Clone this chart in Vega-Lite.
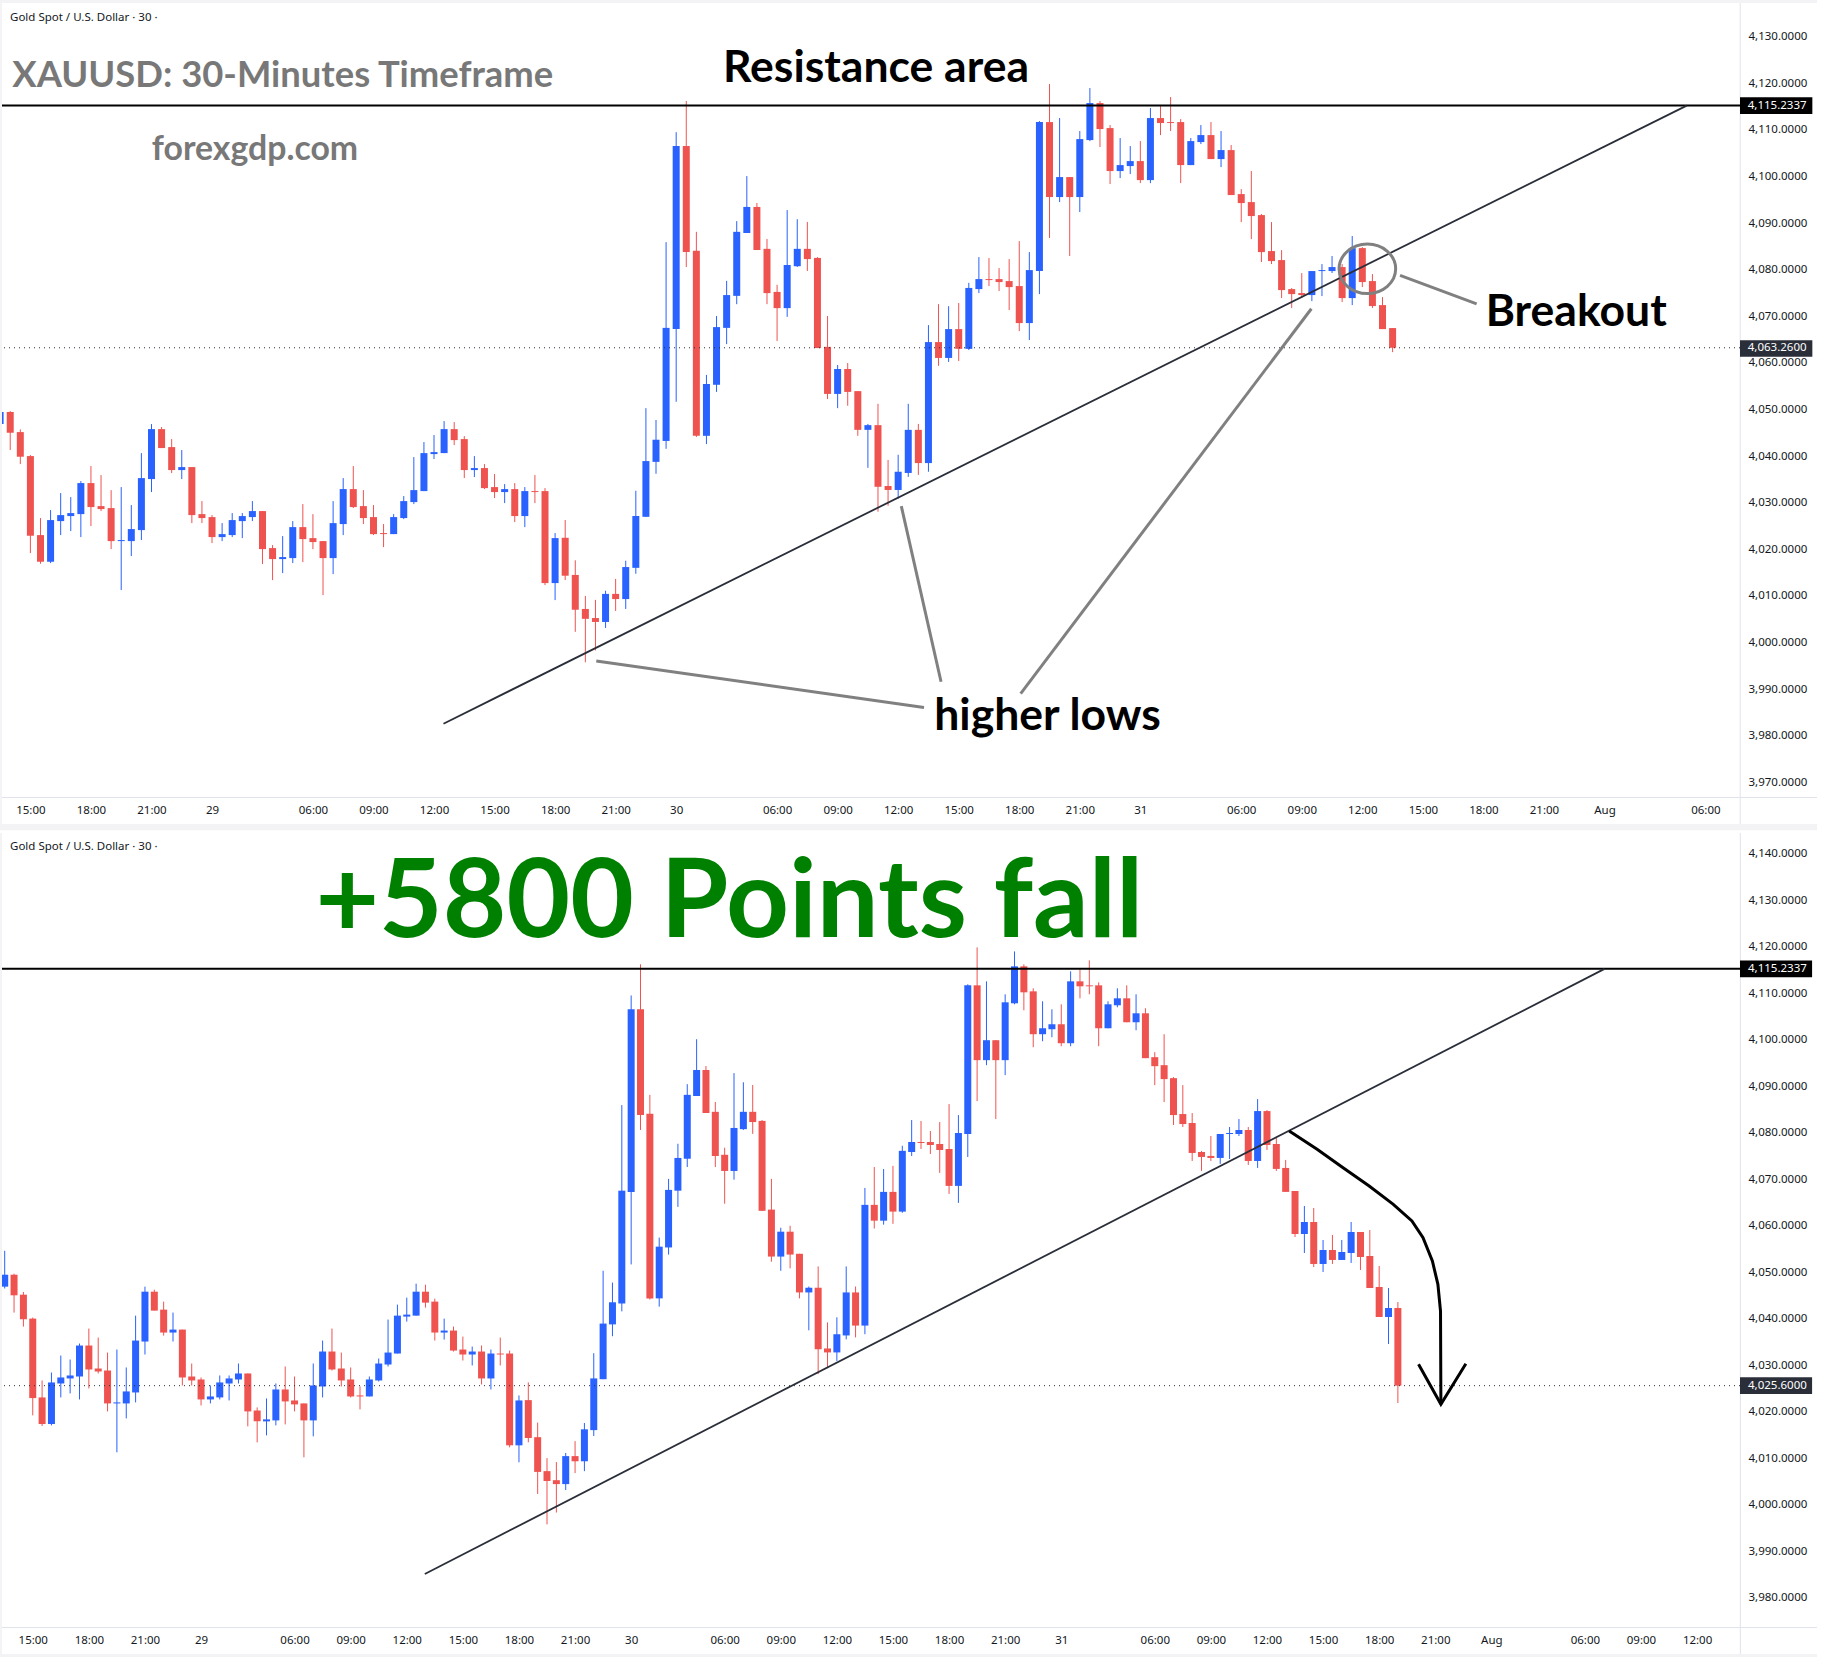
{
  "$schema": "https://vega.github.io/schema/vega-lite/v6.json",
  "background": "white",
  "padding": 0,
  "spacing": 2,
  "config": {
    "view": {"stroke": null},
    "text": {"font": "Lato", "fontWeight": "bold"}
  },
  "datasets": {
    "candles": [
      {"k":1,"o":4049.46,"h":4049.68,"l":4041.31,"c":4045.03},
      {"k":2,"o":4045.17,"h":4045.74,"l":4038.3,"c":4039.88},
      {"k":3,"o":4040.02,"h":4040.24,"l":4019.21,"c":4022.93},
      {"k":4,"o":4023.07,"h":4026.72,"l":4016.92,"c":4017.35},
      {"k":5,"o":4017.35,"h":4028.43,"l":4017.06,"c":4026.29},
      {"k":6,"o":4026.07,"h":4032.08,"l":4023.07,"c":4027.36},
      {"k":7,"o":4027.15,"h":4031.22,"l":4023.93,"c":4027.79},
      {"k":8,"o":4027.57,"h":4034.66,"l":4022.64,"c":4034.23},
      {"k":9,"o":4034.23,"h":4037.88,"l":4025.0,"c":4029.08},
      {"k":10,"o":4029.29,"h":4035.94,"l":4028.22,"c":4028.65},
      {"k":11,"o":4028.86,"h":4032.72,"l":4020.06,"c":4021.78},
      {"k":12,"o":4021.78,"h":4033.37,"l":4011.27,"c":4022.0},
      {"k":13,"o":4021.78,"h":4029.51,"l":4018.56,"c":4024.36},
      {"k":14,"o":4024.14,"h":4040.66,"l":4022.0,"c":4035.3},
      {"k":15,"o":4035.09,"h":4046.89,"l":4032.3,"c":4045.81},
      {"k":16,"o":4045.81,"h":4046.24,"l":4041.74,"c":4041.74},
      {"k":17,"o":4041.95,"h":4043.67,"l":4036.37,"c":4037.02},
      {"k":18,"o":4037.02,"h":4041.31,"l":4035.09,"c":4037.66},
      {"k":19,"o":4037.66,"h":4037.66,"l":4025.64,"c":4027.36},
      {"k":20,"o":4027.57,"h":4030.36,"l":4025.64,"c":4026.72},
      {"k":21,"o":4026.93,"h":4027.36,"l":4021.35,"c":4022.64},
      {"k":22,"o":4022.64,"h":4025.64,"l":4021.78,"c":4023.28},
      {"k":23,"o":4023.07,"h":4027.79,"l":4022.64,"c":4026.29},
      {"k":24,"o":4026.07,"h":4027.79,"l":4022.42,"c":4027.15},
      {"k":25,"o":4026.93,"h":4030.36,"l":4026.07,"c":4028.22},
      {"k":26,"o":4028.22,"h":4028.22,"l":4016.85,"c":4020.06},
      {"k":27,"o":4020.28,"h":4020.92,"l":4013.41,"c":4017.92},
      {"k":28,"o":4017.92,"h":4022.85,"l":4014.91,"c":4018.35},
      {"k":29,"o":4018.13,"h":4026.07,"l":4017.06,"c":4024.78},
      {"k":30,"o":4024.78,"h":4029.72,"l":4017.27,"c":4022.21},
      {"k":31,"o":4022.42,"h":4027.57,"l":4020.06,"c":4021.57},
      {"k":32,"o":4021.78,"h":4021.78,"l":4010.19,"c":4018.13},
      {"k":33,"o":4018.13,"h":4030.36,"l":4014.7,"c":4025.64},
      {"k":34,"o":4025.43,"h":4035.3,"l":4023.07,"c":4032.94},
      {"k":35,"o":4032.94,"h":4037.88,"l":4028.86,"c":4029.08},
      {"k":36,"o":4029.29,"h":4032.72,"l":4025.43,"c":4026.72},
      {"k":37,"o":4026.93,"h":4029.51,"l":4023.07,"c":4023.28},
      {"k":38,"o":4023.5,"h":4025.43,"l":4020.49,"c":4023.28},
      {"k":39,"o":4023.28,"h":4027.57,"l":4023.28,"c":4026.93},
      {"k":40,"o":4026.72,"h":4031.44,"l":4026.5,"c":4030.36},
      {"k":41,"o":4030.15,"h":4039.81,"l":4029.72,"c":4032.72},
      {"k":42,"o":4032.51,"h":4043.03,"l":4032.51,"c":4040.66},
      {"k":43,"o":4040.45,"h":4044.53,"l":4039.38,"c":4040.88},
      {"k":44,"o":4040.66,"h":4047.53,"l":4040.66,"c":4045.81},
      {"k":45,"o":4045.81,"h":4047.32,"l":4042.38,"c":4043.45},
      {"k":46,"o":4043.67,"h":4044.31,"l":4035.3,"c":4037.02},
      {"k":47,"o":4037.02,"h":4040.02,"l":4035.51,"c":4037.45},
      {"k":48,"o":4037.45,"h":4038.3,"l":4032.94,"c":4033.15},
      {"k":49,"o":4033.37,"h":4036.16,"l":4031.01,"c":4032.3},
      {"k":50,"o":4032.3,"h":4034.01,"l":4029.94,"c":4032.94},
      {"k":51,"o":4032.94,"h":4034.23,"l":4025.86,"c":4027.15},
      {"k":52,"o":4027.15,"h":4033.37,"l":4024.78,"c":4032.51},
      {"k":53,"o":4032.51,"h":4035.94,"l":4029.94,"c":4032.3},
      {"k":54,"o":4032.51,"h":4033.15,"l":4012.34,"c":4012.77},
      {"k":55,"o":4012.77,"h":4023.5,"l":4009.12,"c":4022.42},
      {"k":56,"o":4022.49,"h":4026.31,"l":4013.42,"c":4014.35},
      {"k":57,"o":4014.52,"h":4017.66,"l":4002.31,"c":4007.05},
      {"k":58,"o":4007.22,"h":4010.02,"l":3995.77,"c":4005.1},
      {"k":59,"o":4005.27,"h":4009.17,"l":3998.32,"c":4004.43},
      {"k":60,"o":4004.43,"h":4011.13,"l":4003.15,"c":4010.45},
      {"k":61,"o":4010.45,"h":4013.67,"l":4006.8,"c":4009.34},
      {"k":62,"o":4009.34,"h":4017.57,"l":4007.22,"c":4016.21},
      {"k":63,"o":4016.04,"h":4032.58,"l":4014.77,"c":4027.16},
      {"k":64,"o":4026.99,"h":4050.31,"l":4026.99,"c":4038.95},
      {"k":65,"o":4038.78,"h":4047.77,"l":4036.23,"c":4043.53},
      {"k":66,"o":4043.27,"h":4085.93,"l":4041.58,"c":4067.53},
      {"k":67,"o":4067.27,"h":4109.51,"l":4051.67,"c":4106.55},
      {"k":68,"o":4106.55,"h":4116.21,"l":4080.59,"c":4083.81},
      {"k":69,"o":4084.07,"h":4088.14,"l":4044.12,"c":4044.37},
      {"k":70,"o":4044.37,"h":4057.44,"l":4042.59,"c":4055.49},
      {"k":71,"o":4055.32,"h":4070.07,"l":4053.79,"c":4067.7},
      {"k":72,"o":4067.53,"h":4077.62,"l":4064.05,"c":4074.57},
      {"k":73,"o":4074.4,"h":4090.43,"l":4072.62,"c":4088.14},
      {"k":74,"o":4087.89,"h":4100.1,"l":4087.89,"c":4093.48},
      {"k":75,"o":4093.48,"h":4094.33,"l":4084.24,"c":4084.24},
      {"k":76,"o":4084.49,"h":4086.61,"l":4072.62,"c":4074.99},
      {"k":77,"o":4075.25,"h":4076.77,"l":4064.73,"c":4071.77},
      {"k":78,"o":4071.77,"h":4092.81,"l":4069.9,"c":4081.02},
      {"k":79,"o":4080.76,"h":4090.85,"l":4080.59,"c":4084.49},
      {"k":80,"o":4084.49,"h":4090.26,"l":4079.74,"c":4082.29},
      {"k":81,"o":4082.54,"h":4082.71,"l":4063.2,"c":4063.2},
      {"k":82,"o":4063.46,"h":4070.07,"l":4052.26,"c":4053.36},
      {"k":83,"o":4053.36,"h":4059.56,"l":4050.31,"c":4058.71},
      {"k":84,"o":4058.71,"h":4059.98,"l":4050.82,"c":4053.79},
      {"k":85,"o":4053.96,"h":4053.96,"l":4044.37,"c":4045.65},
      {"k":86,"o":4045.65,"h":4046.92,"l":4037.5,"c":4046.66},
      {"k":87,"o":4046.66,"h":4051.24,"l":4028.09,"c":4033.43},
      {"k":88,"o":4033.6,"h":4039.2,"l":4029.36,"c":4032.75},
      {"k":89,"o":4032.75,"h":4040.3,"l":4030.89,"c":4036.66},
      {"k":90,"o":4036.4,"h":4051.24,"l":4035.55,"c":4045.65},
      {"k":91,"o":4045.65,"h":4046.92,"l":4035.98,"c":4038.52},
      {"k":92,"o":4038.52,"h":4068.12,"l":4036.66,"c":4064.48},
      {"k":93,"o":4064.48,"h":4072.62,"l":4059.39,"c":4061.08},
      {"k":94,"o":4061.08,"h":4072.19,"l":4060.23,"c":4067.27},
      {"k":95,"o":4067.27,"h":4072.87,"l":4060.4,"c":4063.03},
      {"k":96,"o":4063.03,"h":4077.2,"l":4062.78,"c":4076.1},
      {"k":97,"o":4075.85,"h":4082.72,"l":4075.0,"c":4078.0},
      {"k":98,"o":4078.0,"h":4082.51,"l":4076.5,"c":4077.79},
      {"k":99,"o":4078.0,"h":4080.36,"l":4075.43,"c":4077.36},
      {"k":100,"o":4077.57,"h":4082.29,"l":4071.35,"c":4076.28},
      {"k":101,"o":4076.5,"h":4086.15,"l":4066.84,"c":4068.56},
      {"k":102,"o":4068.56,"h":4083.79,"l":4064.91,"c":4079.93},
      {"k":103,"o":4079.72,"h":4111.91,"l":4074.78,"c":4111.69},
      {"k":104,"o":4111.69,"h":4119.85,"l":4086.8,"c":4095.6},
      {"k":105,"o":4095.6,"h":4112.55,"l":4094.52,"c":4099.89},
      {"k":106,"o":4099.89,"h":4099.89,"l":4082.94,"c":4095.6},
      {"k":107,"o":4095.6,"h":4109.76,"l":4092.38,"c":4108.04},
      {"k":108,"o":4107.83,"h":4118.99,"l":4107.61,"c":4115.77},
      {"k":109,"o":4115.77,"h":4116.2,"l":4106.33,"c":4110.19},
      {"k":110,"o":4110.4,"h":4111.05,"l":4098.39,"c":4101.18},
      {"k":111,"o":4101.18,"h":4108.26,"l":4099.67,"c":4102.46},
      {"k":112,"o":4102.25,"h":4106.54,"l":4100.53,"c":4103.32},
      {"k":113,"o":4103.32,"h":4107.61,"l":4098.6,"c":4099.24},
      {"k":114,"o":4099.24,"h":4114.7,"l":4098.6,"c":4112.55},
      {"k":115,"o":4112.55,"h":4115.12,"l":4108.9,"c":4111.48},
      {"k":116,"o":4111.69,"h":4117.06,"l":4109.76,"c":4111.48},
      {"k":117,"o":4111.69,"h":4112.33,"l":4098.6,"c":4102.46},
      {"k":118,"o":4102.46,"h":4108.26,"l":4102.46,"c":4107.61},
      {"k":119,"o":4107.4,"h":4111.05,"l":4106.97,"c":4108.9},
      {"k":120,"o":4108.9,"h":4111.69,"l":4103.75,"c":4103.75},
      {"k":121,"o":4103.75,"h":4109.76,"l":4102.03,"c":4105.68},
      {"k":122,"o":4105.68,"h":4106.76,"l":4096.03,"c":4096.03},
      {"k":123,"o":4096.24,"h":4097.31,"l":4090.23,"c":4094.31},
      {"k":124,"o":4094.52,"h":4101.18,"l":4086.58,"c":4091.52},
      {"k":125,"o":4091.73,"h":4091.95,"l":4081.65,"c":4083.79},
      {"k":126,"o":4084.01,"h":4090.23,"l":4081.22,"c":4081.86},
      {"k":127,"o":4082.08,"h":4084.22,"l":4073.92,"c":4075.64},
      {"k":128,"o":4075.85,"h":4076.07,"l":4071.78,"c":4074.78},
      {"k":129,"o":4075.0,"h":4079.29,"l":4073.92,"c":4074.57},
      {"k":130,"o":4074.57,"h":4079.72,"l":4073.28,"c":4079.72},
      {"k":131,"o":4079.72,"h":4081.22,"l":4074.35,"c":4079.93},
      {"k":132,"o":4079.72,"h":4082.94,"l":4079.29,"c":4080.58},
      {"k":133,"o":4080.58,"h":4081.22,"l":4073.06,"c":4073.92},
      {"k":134,"o":4073.92,"h":4087.23,"l":4072.42,"c":4084.65},
      {"k":135,"o":4084.65,"h":4084.87,"l":4076.28,"c":4077.36},
      {"k":136,"o":4077.57,"h":4079.07,"l":4071.78,"c":4072.21},
      {"k":137,"o":4072.42,"h":4074.14,"l":4067.27,"c":4067.27},
      {"k":138,"p":"t","o":4067.49,"h":4067.49,"l":4062.33,"c":4063.26},
      {"k":138,"p":"b","o":4067.46,"h":4067.46,"l":4057.57,"c":4058.22},
      {"k":139,"p":"b","o":4058.22,"h":4064.24,"l":4054.13,"c":4060.8},
      {"k":140,"p":"b","o":4060.8,"h":4063.81,"l":4051.12,"c":4051.77},
      {"k":141,"p":"b","o":4051.77,"h":4056.93,"l":4050.05,"c":4054.78},
      {"k":142,"p":"b","o":4054.78,"h":4058.0,"l":4051.77,"c":4052.63},
      {"k":143,"p":"b","o":4052.63,"h":4056.93,"l":4052.63,"c":4054.35},
      {"k":144,"p":"b","o":4054.13,"h":4060.8,"l":4051.98,"c":4058.65},
      {"k":145,"p":"b","o":4058.65,"h":4058.65,"l":4050.48,"c":4053.27},
      {"k":146,"p":"b","o":4053.49,"h":4059.08,"l":4046.6,"c":4046.6},
      {"k":147,"p":"b","o":4046.82,"h":4051.34,"l":4040.37,"c":4040.37},
      {"k":148,"p":"b","o":4040.37,"h":4046.6,"l":4034.56,"c":4042.3},
      {"k":149,"p":"b","o":4042.3,"h":4043.59,"l":4021.87,"c":4025.6}
    ]
  },
  "vconcat": [
    {
      "width": 1738,
      "height": 794,
      "layer": [
        {
          "data": {"name": "candles"},
          "transform": [{"filter": "datum.k <= 138 && datum.p != 'b'"}],
          "mark": {"type": "rule", "strokeWidth": 1},
          "encoding": {
            "x": {
              "field": "k", "type": "quantitative",
              "scale": {"domain": [0.185, 172.43], "nice": false, "zero": false, "padding": 0},
              "axis": {
                "title": null, "grid": false, "ticks": false, "domain": false,
                "labelFont": "Noto Sans", "labelFontSize": 11.5, "labelColor": "#131722",
                "labelPadding": 7, "labelOverlap": false, "labelFlush": false,
                "values": [3,9,15,21,31,37,43,49,55,61,67,77,83,89,95,101,107,113,123,129,135,141,147,153,159,169],
                "labelExpr": "{3:'15:00',9:'18:00',15:'21:00',21:'29',31:'06:00',37:'09:00',43:'12:00',49:'15:00',55:'18:00',61:'21:00',67:'30',77:'06:00',83:'09:00',89:'12:00',95:'15:00',101:'18:00',107:'21:00',113:'31',123:'06:00',129:'09:00',135:'12:00',141:'15:00',147:'18:00',153:'21:00',159:'Aug',169:'06:00'}[datum.value]"
              }
            },
            "y": {
              "field": "h", "type": "quantitative",
              "scale": {"domain": [3966.87, 4137.24], "nice": false, "zero": false},
              "axis": {
                "title": null, "orient": "right", "grid": false, "ticks": false, "domain": false,
                "labelFont": "Noto Sans", "labelFontSize": 11.5, "labelColor": "#131722",
                "labelPadding": 8, "labelOverlap": false, "labelFlush": false, "format": ",.4f",
                "values": [3970,3980,3990,4000,4010,4020,4030,4040,4050,4060,4070,4080,4090,4100,4110,4120,4130]
              }
            },
            "y2": {"field": "l"},
            "color": {"condition": {"test": "datum.c >= datum.o", "value": "#2962FF"}, "value": "#EF5350"}
          }
        },
        {
          "data": {"values": [
            {"k":0,"k2":180.07,"v":4137.88,"v2":4137.24},
            {"k":0,"k2":0.185,"v":4137.88,"v2":3959.76},
            {"k":0,"k2":180.07,"v":3961.05,"v2":3959.76}
          ]},
          "mark": {"type": "rect", "color": "#f3f3f5"},
          "encoding": {
            "x": {"field": "k", "type": "quantitative"},
            "x2": {"field": "k2"},
            "y": {"field": "v", "type": "quantitative"},
            "y2": {"field": "v2"}
          }
        },
        {
          "data": {"values": [
            {"k":172.4,"k2":172.5,"v":4137.24,"v2":3961.05},
            {"k":0.185,"k2":180.07,"v":3966.87,"v2":3966.65}
          ]},
          "mark": {"type": "rect", "color": "#e0e3eb"},
          "encoding": {
            "x": {"field": "k", "type": "quantitative"},
            "x2": {"field": "k2"},
            "y": {"field": "v", "type": "quantitative"},
            "y2": {"field": "v2"}
          }
        },
        {
          "data": {"values": [{"k":0.185,"k2":0.345,"v":4049.46,"v2":4046.89}]},
          "mark": {"type": "rect", "color": "#2962FF"},
          "encoding": {
            "x": {"field": "k", "type": "quantitative"},
            "x2": {"field": "k2"},
            "y": {"field": "v", "type": "quantitative"},
            "y2": {"field": "v2"}
          }
        },
        {
          "data": {"name": "candles"},
          "transform": [{"filter": "datum.k <= 138 && datum.p != 'b'"}],
          "mark": {"type": "bar", "size": 7},
          "encoding": {
            "x": {"field": "k", "type": "quantitative"},
            "y": {"field": "o", "type": "quantitative"},
            "y2": {"field": "c"},
            "color": {"condition": {"test": "datum.c >= datum.o", "value": "#2962FF"}, "value": "#EF5350"}
          }
        },
        {
          "data": {"values": [{"v": 4063.26}]},
          "mark": {"type": "rule", "color": "#2a2e39", "strokeWidth": 1, "strokeDash": [1, 4]},
          "encoding": {"y": {"field": "v", "type": "quantitative"}}
        },
        {
          "data": {"values": [{"v": 4115.2337}]},
          "mark": {"type": "rule", "color": "#000000", "strokeWidth": 2},
          "encoding": {"y": {"field": "v", "type": "quantitative"}}
        },
        {
          "data": {"values": [{"k":43.94,"v":3982.6},{"k":167.15,"v":4115.23}]},
          "mark": {"type": "line", "color": "#2a2e39", "strokeWidth": 1.8},
          "encoding": {
            "x": {"field": "k", "type": "quantitative"},
            "y": {"field": "v", "type": "quantitative"}
          }
        },
        {
          "data": {"values": [
            {"g":"a","n":0,"k":59.08,"v":3996.03},{"g":"a","n":1,"k":91.56,"v":3986.07},
            {"g":"b","n":0,"k":89.31,"v":4029.3},{"g":"b","n":1,"k":93.25,"v":3991.6},
            {"g":"c","n":0,"k":129.95,"v":4071.63},{"g":"c","n":1,"k":101.14,"v":3989.06},
            {"g":"d","n":0,"k":138.74,"v":4078.8},{"g":"d","n":1,"k":146.33,"v":4072.7}
          ]},
          "mark": {"type": "line", "color": "#808080", "strokeWidth": 3},
          "encoding": {
            "x": {"field": "k", "type": "quantitative"},
            "y": {"field": "v", "type": "quantitative"},
            "detail": {"field": "g"},
            "order": {"field": "n"}
          }
        },
        {
          "data": {"values": [{"k":135.5,"v":4080.2}]},
          "mark": {
            "type": "point", "filled": false, "color": "#808080", "strokeWidth": 3, "opacity": 1, "size": 3204,
            "shape": "M-1,0 A1,0.873 0 1,1 1,0 A1,0.873 0 1,1 -1,0 Z"
          },
          "encoding": {
            "x": {"field": "k", "type": "quantitative"},
            "y": {"field": "v", "type": "quantitative"}
          }
        },
        {
          "data": {"values": [{"k":172.43,"k2":179.6,"v":4117.02,"v2":4113.44}]},
          "mark": {"type": "rect", "color": "#000000"},
          "encoding": {
            "x": {"field": "k", "type": "quantitative"},
            "x2": {"field": "k2"},
            "y": {"field": "v", "type": "quantitative"},
            "y2": {"field": "v2"}
          }
        },
        {
          "data": {"values": [{"k":172.43,"k2":179.6,"v":4064.9,"v2":4061.32}]},
          "mark": {"type": "rect", "color": "#2a2e39"},
          "encoding": {
            "x": {"field": "k", "type": "quantitative"},
            "x2": {"field": "k2"},
            "y": {"field": "v", "type": "quantitative"},
            "y2": {"field": "v2"}
          }
        },
        {
          "data": {"values": [{"k":173.2,"v":4115.2,"t":"4,115.2337"},{"k":173.2,"v":4063.2,"t":"4,063.2600"}]},
          "mark": {"type": "text", "align": "left", "font": "Noto Sans", "fontWeight": "normal", "fontSize": 11.5, "color": "#ffffff"},
          "encoding": {
            "x": {"field": "k", "type": "quantitative"},
            "y": {"field": "v", "type": "quantitative"},
            "text": {"field": "t"}
          }
        },
        {
          "data": {"values": [{"k":0.98,"v":4134,"t":"Gold Spot / U.S. Dollar · 30 ·"}]},
          "mark": {"type": "text", "align": "left", "font": "Noto Sans", "fontWeight": "normal", "fontSize": 11.5, "color": "#131722"},
          "encoding": {
            "x": {"field": "k", "type": "quantitative"},
            "y": {"field": "v", "type": "quantitative"},
            "text": {"field": "t"}
          }
        },
        {
          "data": {"values": [{"k":1.2,"v":4121.6,"t":"XAUUSD: 30-Minutes Timeframe"}]},
          "mark": {"type": "text", "align": "left", "fontSize": 36.4, "color": "#787878"},
          "encoding": {
            "x": {"field": "k", "type": "quantitative"},
            "y": {"field": "v", "type": "quantitative"},
            "text": {"field": "t"}
          }
        },
        {
          "data": {"values": [{"k":25.26,"v":4105.7,"t":"forexgdp.com"}]},
          "mark": {"type": "text", "fontSize": 33.8, "color": "#787878"},
          "encoding": {
            "x": {"field": "k", "type": "quantitative"},
            "y": {"field": "v", "type": "quantitative"},
            "text": {"field": "t"}
          }
        },
        {
          "data": {"values": [
            {"k":86.8,"v":4123.15,"t":"Resistance area"},
            {"k":156.2,"v":4070.8,"t":"Breakout"},
            {"k":103.8,"v":3984.1,"t":"higher lows"}
          ]},
          "mark": {"type": "text", "fontSize": 44.5, "color": "#000000"},
          "encoding": {
            "x": {"field": "k", "type": "quantitative"},
            "y": {"field": "v", "type": "quantitative"},
            "text": {"field": "t"}
          }
        }
      ]
    },
    {
      "width": 1738,
      "height": 794,
      "layer": [
        {
          "data": {"name": "candles"},
          "transform": [{"filter": "datum.p != 't'"}],
          "mark": {"type": "rule", "strokeWidth": 1},
          "encoding": {
            "x": {
              "field": "k", "type": "quantitative",
              "scale": {"domain": [-0.289, 185.59], "nice": false, "zero": false, "padding": 0},
              "axis": {
                "title": null, "grid": false, "ticks": false, "domain": false,
                "labelFont": "Noto Sans", "labelFontSize": 11.5, "labelColor": "#131722",
                "labelPadding": 7, "labelOverlap": false, "labelFlush": false,
                "values": [3,9,15,21,31,37,43,49,55,61,67,77,83,89,95,101,107,113,123,129,135,141,147,153,159,169,175,181],
                "labelExpr": "{3:'15:00',9:'18:00',15:'21:00',21:'29',31:'06:00',37:'09:00',43:'12:00',49:'15:00',55:'18:00',61:'21:00',67:'30',77:'06:00',83:'09:00',89:'12:00',95:'15:00',101:'18:00',107:'21:00',113:'31',123:'06:00',129:'09:00',135:'12:00',141:'15:00',147:'18:00',153:'21:00',159:'Aug',169:'06:00',175:'09:00',181:'12:00'}[datum.value]"
              }
            },
            "y": {
              "field": "h", "type": "quantitative",
              "scale": {"domain": [3973.7, 4144.45], "nice": false, "zero": false},
              "axis": {
                "title": null, "orient": "right", "grid": false, "ticks": false, "domain": false,
                "labelFont": "Noto Sans", "labelFontSize": 11.5, "labelColor": "#131722",
                "labelPadding": 8, "labelOverlap": false, "labelFlush": false, "format": ",.4f",
                "values": [3980,3990,4000,4010,4020,4030,4040,4050,4060,4070,4080,4090,4100,4110,4120,4130,4140]
              }
            },
            "y2": {"field": "l"},
            "color": {"condition": {"test": "datum.c >= datum.o", "value": "#2962FF"}, "value": "#EF5350"}
          }
        },
        {
          "data": {"values": [
            {"k":-0.489,"k2":-0.289,"v":4144.45,"v2":3967.25},
            {"k":-0.489,"k2":193.83,"v":3967.9,"v2":3967.25}
          ]},
          "mark": {"type": "rect", "color": "#f3f3f5"},
          "encoding": {
            "x": {"field": "k", "type": "quantitative"},
            "x2": {"field": "k2"},
            "y": {"field": "v", "type": "quantitative"},
            "y2": {"field": "v2"}
          }
        },
        {
          "data": {"values": [
            {"k":185.57,"k2":185.68,"v":4144.45,"v2":3967.9},
            {"k":-0.289,"k2":193.83,"v":3973.7,"v2":3973.48}
          ]},
          "mark": {"type": "rect", "color": "#e0e3eb"},
          "encoding": {
            "x": {"field": "k", "type": "quantitative"},
            "x2": {"field": "k2"},
            "y": {"field": "v", "type": "quantitative"},
            "y2": {"field": "v2"}
          }
        },
        {
          "data": {"values": [
            {"k":0,"h":4054.6,"l":4046.5}
          ]},
          "mark": {"type": "rule", "color": "#2962FF", "strokeWidth": 1},
          "encoding": {
            "x": {"field": "k", "type": "quantitative"},
            "y": {"field": "h", "type": "quantitative"},
            "y2": {"field": "l"}
          }
        },
        {
          "data": {"values": [{"k":-0.289,"k2":0.375,"v":4049.46,"v2":4046.89}]},
          "mark": {"type": "rect", "color": "#2962FF"},
          "encoding": {
            "x": {"field": "k", "type": "quantitative"},
            "x2": {"field": "k2"},
            "y": {"field": "v", "type": "quantitative"},
            "y2": {"field": "v2"}
          }
        },
        {
          "data": {"name": "candles"},
          "transform": [{"filter": "datum.p != 't'"}],
          "mark": {"type": "bar", "size": 7},
          "encoding": {
            "x": {"field": "k", "type": "quantitative"},
            "y": {"field": "o", "type": "quantitative"},
            "y2": {"field": "c"},
            "color": {"condition": {"test": "datum.c >= datum.o", "value": "#2962FF"}, "value": "#EF5350"}
          }
        },
        {
          "data": {"values": [{"v": 4025.6}]},
          "mark": {"type": "rule", "color": "#2a2e39", "strokeWidth": 1, "strokeDash": [1, 4]},
          "encoding": {"y": {"field": "v", "type": "quantitative"}}
        },
        {
          "data": {"values": [{"v": 4115.2337}]},
          "mark": {"type": "rule", "color": "#000000", "strokeWidth": 2},
          "encoding": {"y": {"field": "v", "type": "quantitative"}}
        },
        {
          "data": {"values": [{"k":44.93,"v":3985.1},{"k":171.1,"v":4115.23}]},
          "mark": {"type": "line", "color": "#2a2e39", "strokeWidth": 1.8},
          "encoding": {
            "x": {"field": "k", "type": "quantitative"},
            "y": {"field": "v", "type": "quantitative"}
          }
        },
        {
          "data": {"values": [
            {"g":"curve","n":0,"k":137.38,"v":4080.37},
            {"g":"curve","n":1,"k":140.36,"v":4076.43},
            {"g":"curve","n":2,"k":143.14,"v":4072.48},
            {"g":"curve","n":3,"k":145.93,"v":4068.54},
            {"g":"curve","n":4,"k":148.51,"v":4064.6},
            {"g":"curve","n":5,"k":150.5,"v":4061.01},
            {"g":"curve","n":6,"k":151.69,"v":4057.43},
            {"g":"curve","n":7,"k":152.69,"v":4052.41},
            {"g":"curve","n":8,"k":153.28,"v":4047.39},
            {"g":"curve","n":9,"k":153.56,"v":4041.66},
            {"g":"curve","n":10,"k":153.6,"v":4021.59},
            {"g":"head","n":0,"k":151.21,"v":4030.19},
            {"g":"head","n":1,"k":153.6,"v":4021.59},
            {"g":"head","n":2,"k":156.27,"v":4030.33}
          ]},
          "mark": {"type": "line", "color": "#000000", "strokeWidth": 3},
          "encoding": {
            "x": {"field": "k", "type": "quantitative"},
            "y": {"field": "v", "type": "quantitative"},
            "detail": {"field": "g"},
            "order": {"field": "n"}
          }
        },
        {
          "data": {"values": [{"k":185.59,"k2":193.3,"v":4117.03,"v2":4113.43}]},
          "mark": {"type": "rect", "color": "#000000"},
          "encoding": {
            "x": {"field": "k", "type": "quantitative"},
            "x2": {"field": "k2"},
            "y": {"field": "v", "type": "quantitative"},
            "y2": {"field": "v2"}
          }
        },
        {
          "data": {"values": [{"k":185.59,"k2":193.3,"v":4027.4,"v2":4023.8}]},
          "mark": {"type": "rect", "color": "#2a2e39"},
          "encoding": {
            "x": {"field": "k", "type": "quantitative"},
            "x2": {"field": "k2"},
            "y": {"field": "v", "type": "quantitative"},
            "y2": {"field": "v2"}
          }
        },
        {
          "data": {"values": [{"k":186.45,"v":4115.2,"t":"4,115.2337"},{"k":186.45,"v":4025.6,"t":"4,025.6000"}]},
          "mark": {"type": "text", "align": "left", "font": "Noto Sans", "fontWeight": "normal", "fontSize": 11.5, "color": "#ffffff"},
          "encoding": {
            "x": {"field": "k", "type": "quantitative"},
            "y": {"field": "v", "type": "quantitative"},
            "text": {"field": "t"}
          }
        },
        {
          "data": {"values": [{"k":0.57,"v":4141.5,"t":"Gold Spot / U.S. Dollar · 30 ·"}]},
          "mark": {"type": "text", "align": "left", "font": "Noto Sans", "fontWeight": "normal", "fontSize": 11.5, "color": "#131722"},
          "encoding": {
            "x": {"field": "k", "type": "quantitative"},
            "y": {"field": "v", "type": "quantitative"},
            "text": {"field": "t"}
          }
        },
        {
          "data": {"values": [{"k":77.5,"v":4129.2,"t":"+5800 Points fall"}]},
          "mark": {"type": "text", "fontSize": 109.8, "color": "#008000"},
          "encoding": {
            "x": {"field": "k", "type": "quantitative"},
            "y": {"field": "v", "type": "quantitative"},
            "text": {"field": "t"}
          }
        }
      ]
    }
  ]
}
